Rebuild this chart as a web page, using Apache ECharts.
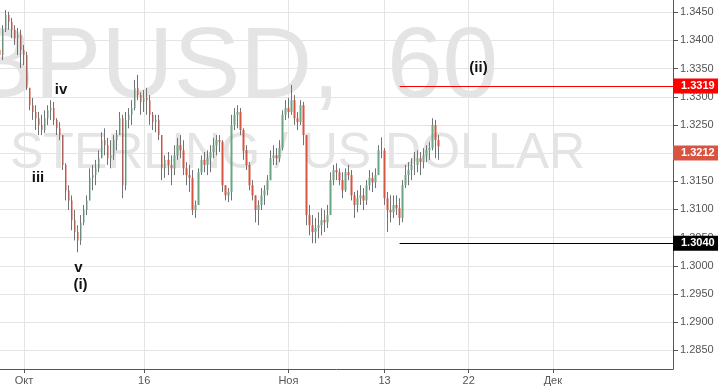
<!DOCTYPE html>
<html><head><meta charset="utf-8">
<script src="https://cdn.jsdelivr.net/npm/echarts@6/dist/echarts.min.js"></script>
<style>html,body{margin:0;padding:0;background:#fff}#c{width:718px;height:387px}</style>
</head><body><div id="c"></div>
<script>
// GBPUSD, 6-hour candles (Sep 28 – Nov 17)
const firstOpen = 1.3383;
const closes = [
1.3374,1.3419,1.3445,1.3433,1.3419,1.3404,1.3410,1.3383,1.3374,1.3316,
1.3285,1.3273,1.3262,1.3250,1.3241,1.3262,1.3276,1.3280,1.3259,1.3244,
1.3232,1.3179,1.3134,1.3116,1.3081,1.3060,1.3045,1.3077,1.3099,1.3116,
1.3156,1.3161,1.3173,1.3191,1.3223,1.3214,1.3191,1.3196,1.3223,1.3232,
1.3262,1.3143,1.3259,1.3268,1.3280,1.3316,1.3303,1.3291,1.3298,1.3294,
1.3268,1.3255,1.3259,1.3232,1.3173,1.3188,1.3179,1.3173,1.3196,1.3214,
1.3205,1.3173,1.3161,1.3156,1.3099,1.3108,1.3166,1.3188,1.3179,1.3191,
1.3202,1.3214,1.3223,1.3220,1.3143,1.3125,1.3131,1.3250,1.3268,1.3273,
1.3241,1.3205,1.3179,1.3143,1.3125,1.3099,1.3108,1.3125,1.3134,1.3152,
1.3191,1.3196,1.3191,1.3209,1.3268,1.3280,1.3273,1.3294,1.3262,1.3255,
1.3285,1.3232,1.3090,1.3072,1.3060,1.3067,1.3072,1.3081,1.3077,1.3090,
1.3152,1.3170,1.3166,1.3152,1.3134,1.3166,1.3161,1.3125,1.3108,1.3120,
1.3125,1.3116,1.3143,1.3156,1.3148,1.3161,1.3205,1.3205,1.3120,1.3099,
1.3095,1.3108,1.3102,1.3085,1.3143,1.3161,1.3170,1.3179,1.3179,1.3191,
1.3184,1.3196,1.3205,1.3209,1.3250,1.3223,1.3212];
const highs = [
1.3410,1.3427,1.3454,1.3451,1.3440,1.3427,1.3422,1.3419,1.3392,1.3380,
1.3316,1.3298,1.3285,1.3273,1.3268,1.3276,1.3285,1.3294,1.3291,1.3262,
1.3255,1.3232,1.3182,1.3143,1.3125,1.3099,1.3072,1.3090,1.3108,1.3125,
1.3173,1.3179,1.3188,1.3205,1.3237,1.3244,1.3227,1.3223,1.3232,1.3241,
1.3273,1.3268,1.3273,1.3280,1.3294,1.3330,1.3339,1.3308,1.3312,1.3316,
1.3303,1.3273,1.3268,1.3268,1.3232,1.3196,1.3202,1.3196,1.3214,1.3227,
1.3232,1.3223,1.3184,1.3179,1.3170,1.3116,1.3173,1.3196,1.3202,1.3205,
1.3214,1.3227,1.3232,1.3232,1.3223,1.3143,1.3138,1.3268,1.3280,1.3285,
1.3280,1.3244,1.3214,1.3184,1.3152,1.3125,1.3116,1.3138,1.3143,1.3161,
1.3205,1.3214,1.3209,1.3223,1.3276,1.3294,1.3298,1.3321,1.3303,1.3273,
1.3294,1.3291,1.3232,1.3108,1.3090,1.3085,1.3095,1.3102,1.3099,1.3108,
1.3166,1.3179,1.3182,1.3173,1.3166,1.3173,1.3179,1.3170,1.3131,1.3134,
1.3143,1.3138,1.3152,1.3170,1.3166,1.3173,1.3214,1.3228,1.3209,1.3131,
1.3125,1.3125,1.3125,1.3120,1.3152,1.3179,1.3184,1.3191,1.3202,1.3205,
1.3202,1.3209,1.3214,1.3220,1.3262,1.3259,1.3232];
const lows = [
1.3344,1.3365,1.3415,1.3419,1.3404,1.3392,1.3374,1.3351,1.3356,1.3312,
1.3276,1.3259,1.3241,1.3232,1.3232,1.3236,1.3250,1.3259,1.3250,1.3232,
1.3223,1.3170,1.3116,1.3099,1.3063,1.3045,1.3024,1.3037,1.3072,1.3090,
1.3116,1.3134,1.3143,1.3166,1.3191,1.3196,1.3179,1.3173,1.3188,1.3205,
1.3232,1.3120,1.3134,1.3244,1.3250,1.3276,1.3294,1.3268,1.3273,1.3268,
1.3250,1.3241,1.3237,1.3223,1.3152,1.3156,1.3161,1.3143,1.3161,1.3188,
1.3191,1.3161,1.3143,1.3131,1.3090,1.3085,1.3108,1.3161,1.3166,1.3161,
1.3166,1.3191,1.3196,1.3202,1.3131,1.3116,1.3113,1.3116,1.3241,1.3244,
1.3232,1.3188,1.3170,1.3134,1.3116,1.3077,1.3072,1.3099,1.3108,1.3125,
1.3152,1.3179,1.3179,1.3184,1.3205,1.3259,1.3262,1.3268,1.3250,1.3241,
1.3250,1.3214,1.3072,1.3054,1.3040,1.3040,1.3049,1.3054,1.3060,1.3067,
1.3090,1.3143,1.3152,1.3143,1.3120,1.3131,1.3152,1.3116,1.3085,1.3095,
1.3108,1.3099,1.3108,1.3134,1.3131,1.3138,1.3161,1.3191,1.3108,1.3060,
1.3077,1.3085,1.3090,1.3072,1.3077,1.3138,1.3143,1.3152,1.3161,1.3166,
1.3161,1.3173,1.3184,1.3188,1.3205,1.3191,1.3188];

const slotCount = 225;                 // 6-hour slots, incl. empty future
const tickSlots = [8, 48, 96, 128, 156, 184];
const tickLabels = ['Окт', '16', 'Ноя', '13', '22', 'Дек'];
const resistance = 1.3319, support = 1.3040, lastPrice = 1.3212;
const levelStartSlot = 133;
const yMin = 1.28168, yMax = 1.34718;
const waveLabels = [
  {t: 'iv', x: 61, y: 90}, {t: 'iii', x: 38, y: 178}, {t: 'v', x: 78.5, y: 268},
  {t: '(i)', x: 80.5, y: 285}, {t: '(ii)', x: 478.5, y: 68}
];

const cats = Array.from({length: slotCount}, (_, i) => String(i));
const opens = closes.map((c, i) => i === 0 ? firstOpen : closes[i - 1]);
const full = closes.map((c, i) => [opens[i], c, lows[i], highs[i]]);
const bodies = closes.map((c, i) => [opens[i], c, Math.min(opens[i], c), Math.max(opens[i], c)]);
const isTick = (idx) => tickSlots.indexOf(idx) >= 0;
const FF = "'Liberation Sans', Arial, sans-serif";

function priceLabel(bg, val) {
  return {show: true, position: 'end', distance: 0, formatter: val.toFixed(4),
    backgroundColor: bg, color: '#fff', fontWeight: 'bold', fontSize: 11, fontFamily: FF,
    padding: [2, 6, 1, 8], lineHeight: 12};
}

const chart = echarts.init(document.getElementById('c'), null, {renderer: 'canvas'});
chart.setOption({
  animation: false,
  backgroundColor: '#ffffff',
  grid: {left: 0, right: 45, top: 0, bottom: 18, containLabel: false},
  xAxis: {
    type: 'category', data: cats, boundaryGap: false,
    axisLine: {lineStyle: {color: '#555', width: 1}},
    axisTick: {show: true, interval: isTick, length: 4, lineStyle: {color: '#555'}},
    axisLabel: {interval: isTick, formatter: (v, idx) => tickLabels[tickSlots.indexOf(Number(v))] || '',
      color: '#555', fontSize: 11, fontFamily: FF, margin: 6},
    splitLine: {show: true, interval: isTick, lineStyle: {color: '#e4e4e4', width: 1}}
  },
  yAxis: {
    type: 'value', position: 'right', min: yMin, max: yMax, scale: true,
    splitNumber: 13, minInterval: 0.005, maxInterval: 0.005,
    axisLine: {show: true, lineStyle: {color: '#555'}},
    axisTick: {show: true, length: 5, lineStyle: {color: '#555'}},
    axisLabel: {showMinLabel: false, showMaxLabel: false, color: '#555', fontSize: 11, fontFamily: FF, margin: 7,
      padding: [3, 0, 0, 0], formatter: v => v.toFixed(4)},
    splitLine: {show: true, showMinLine: false, showMaxLine: false, lineStyle: {color: '#e4e4e4', width: 1}}
  },
  graphic: {elements: [
    {type: 'text', x: -110, y: 69, z: -10, silent: true,
      style: {text: 'GBPUSD,', font: '100px ' + FF, fill: '#e4e4e4', align: 'left', verticalAlign: 'middle'}},
    {type: 'text', x: 387, y: 69, z: -10, silent: true,
      style: {text: '60', font: '100px ' + FF, fill: '#e4e4e4', align: 'left', verticalAlign: 'middle'}},
    {type: 'text', x: 10, y: 154.5, z: -10, silent: true,
      style: {text: 'STERLING / US DOLLAR', font: '50px ' + FF, fill: '#e4e4e4', align: 'left', verticalAlign: 'middle'}}
  ].concat(waveLabels.map(w => ({type: 'text', x: w.x, y: w.y, z: 50, silent: true,
      style: {text: w.t, font: 'bold 15px ' + FF, fill: '#131313', align: 'center', verticalAlign: 'middle'}})))},
  series: [
    {
      type: 'candlestick', name: 'wicks', data: full, barWidth: 1,
      itemStyle: {color: '#737375', color0: '#737375', borderColor: '#737375', borderColor0: '#737375', borderWidth: 1},
      silent: true, z: 2
    },
    {
      type: 'candlestick', name: 'bodies', data: bodies, barWidth: 2,
      itemStyle: {color: '#6ba583', color0: '#d75442', borderColor: '#6ba583', borderColor0: '#d75442', borderWidth: 0},
      silent: true, z: 3,
      markLine: {
        silent: true, symbol: ['none', 'none'], animation: false,
        data: [
          [{coord: [cats[levelStartSlot], resistance], lineStyle: {color: '#ff0000', width: 1, type: 'solid'}, label: priceLabel('#ff0000', resistance)},
           {coord: [cats[slotCount - 1], resistance]}],
          [{coord: [cats[levelStartSlot], support], lineStyle: {color: '#000000', width: 1, type: 'solid'}, label: priceLabel('#000000', support)},
           {coord: [cats[slotCount - 1], support]}],
          {yAxis: lastPrice, lineStyle: {color: 'rgba(0,0,0,0)', width: 0}, label: priceLabel('#d75442', lastPrice)}
        ]
      }
    }
  ]
});
</script></body></html>
